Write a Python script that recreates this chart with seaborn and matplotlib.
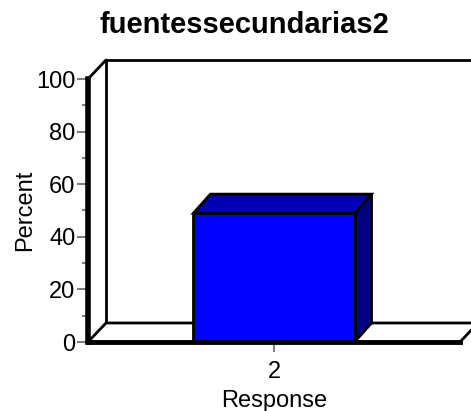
import matplotlib
matplotlib.use("Agg")
import matplotlib.pyplot as plt
import matplotlib.transforms as mtransforms
from matplotlib.patches import Polygon
from matplotlib.ticker import MultipleLocator
import pandas as pd
import seaborn as sns

# %% data

categories = ["2"]
percent = [49.0]
title = "fuentessecundarias2"

# %% figure

sns.set_style("white")
plt.rcParams["font.family"] = ["Liberation Sans", "DejaVu Sans"]
plt.rcParams.update({"text.color": "black", "axes.labelcolor": "black",
                     "xtick.color": "black", "ytick.color": "black",
                     "axes.edgecolor": "black"})

W, H, DPI = 471, 411, 100
fig = plt.figure(figsize=(W / DPI, H / DPI), dpi=DPI)
ax = fig.add_axes([88 / W, (H - 342) / H, 372 / W, 263 / H])

df = pd.DataFrame({"Response": categories, "Percent": percent})
sns.barplot(data=df, x="Response", y="Percent", color="#0000ff", width=0.433,
            edgecolor="black", linewidth=2, saturation=1, ax=ax)
bars = list(ax.patches)

ax.set_xlim(-0.5, 0.5)
ax.set_ylim(0, 100)
ax.yaxis.set_major_locator(MultipleLocator(20))
ax.yaxis.set_minor_locator(MultipleLocator(10))
for s in ["top", "right"]:
    ax.spines[s].set_visible(False)
ax.spines["left"].set_linewidth(4)
ax.spines["bottom"].set_linewidth(3.5)
ax.spines["left"].set_zorder(8)
ax.spines["bottom"].set_zorder(8)
ax.patch.set_visible(False)

ax.tick_params(axis="y", which="major", length=8, width=1.5, color="#808080",
               labelcolor="black", labelsize=17, pad=1, direction="out", left=True)
ax.tick_params(axis="y", which="minor", length=4.5, width=1.5, color="#808080",
               direction="out", left=True)
ax.tick_params(axis="x", length=7, width=1.5, color="#808080", labelcolor="black",
               labelsize=17, pad=7, direction="out", bottom=True)
ax.set_xlabel("Response", fontsize=17, labelpad=5)
ax.set_ylabel("Percent", fontsize=17, labelpad=0)
fig.suptitle(title, fontsize=21, fontweight="bold", x=244 / W, y=1 - 11 / H, va="top")

# %% 3d depth: walls and floor shifted back by a pixel offset
dx, dy = 18 / DPI, 19 / DPI
back = ax.transAxes + mtransforms.ScaledTranslation(dx, dy, fig.dpi_scale_trans)
front = ax.transAxes
inv = fig.transFigure.inverted()
fp = lambda p: inv.transform(front.transform(p))
bp = lambda p: inv.transform(back.transform(p))

wall = Polygon([bp((0, 0)), bp((0, 1)), bp((1, 1)), bp((1, 0))], closed=False,
               fill=False, edgecolor="black", lw=2, transform=fig.transFigure,
               clip_on=False, zorder=1)
ax.add_patch(wall)

floor = Polygon([fp((0, 0)), bp((0, 0)), bp((1, 0)), fp((1, 0))], closed=True,
                facecolor="white", edgecolor="black", lw=2,
                transform=fig.transFigure, clip_on=False, zorder=2)
ax.add_patch(floor)

ax.add_line(plt.Line2D([fp((0, 1))[0], bp((0, 1))[0]], [fp((0, 1))[1], bp((0, 1))[1]],
                       color="black", lw=2, transform=fig.transFigure,
                       clip_on=False, zorder=2))

# bar top and side faces from the seaborn bar patch
bdx, bdy = 17 / DPI, 19 / DPI
bar_back = ax.transData + mtransforms.ScaledTranslation(bdx, bdy, fig.dpi_scale_trans)
f = lambda p: inv.transform(ax.transData.transform(p))
b = lambda p: inv.transform(bar_back.transform(p))
for bar in bars:
    x0, w, h = bar.get_x(), bar.get_width(), bar.get_height()
    x1 = x0 + w
    top = Polygon([f((x0, h)), b((x0, h)), b((x1, h)), f((x1, h))], closed=True,
                  facecolor="#0000b4", edgecolor="black", lw=2,
                  transform=fig.transFigure, clip_on=False, zorder=6)
    side = Polygon([f((x1, 0)), f((x1, h)), b((x1, h)), b((x1, 0))], closed=True,
                   facecolor="#000080", edgecolor="black", lw=2,
                   transform=fig.transFigure, clip_on=False, zorder=6)
    ax.add_patch(side)
    ax.add_patch(top)
    bar.set_zorder(7)

fig.savefig("out.png", dpi=DPI, facecolor="white")
